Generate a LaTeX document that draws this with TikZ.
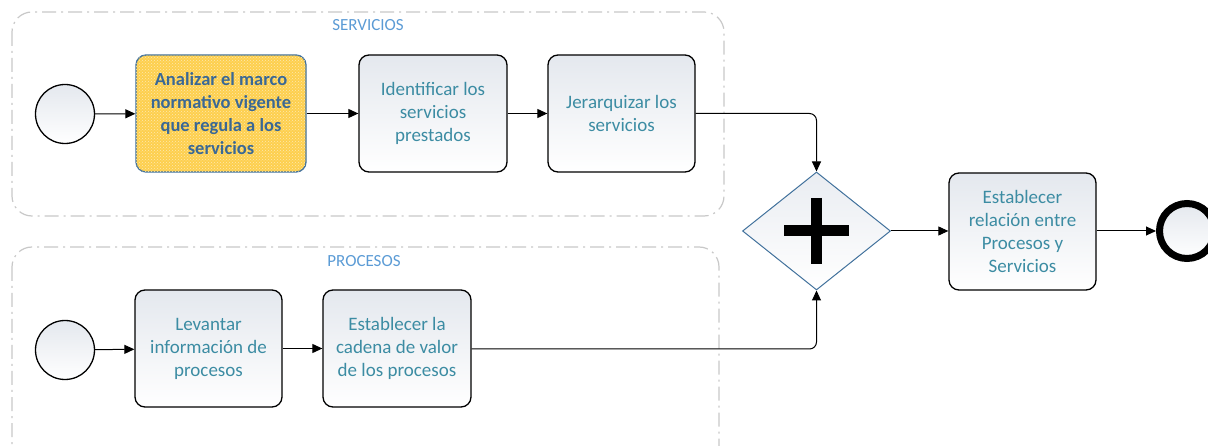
\documentclass[tikz,border=0pt]{standalone}
\usepackage{fontspec}
\setmainfont{Carlito}
\usetikzlibrary{arrows.meta,shapes.geometric,patterns}
\definecolor{topc}{HTML}{E4E8EE}
\definecolor{taskc}{HTML}{3C8CA3}
\definecolor{boldc}{HTML}{3A6895}
\definecolor{bordc}{HTML}{41719C}
\definecolor{yelc}{HTML}{FDCF4E}
\definecolor{grpc}{HTML}{C8C8C8}
\definecolor{glc}{HTML}{5B9BD5}
\begin{document}
\begin{tikzpicture}[x=1pt,y=-1pt,
  task/.style={draw=black, line width=1.3pt, rounded corners=10pt, minimum width=148pt, minimum height=117pt, top color=topc, bottom color=white, align=center, text=taskc, font=\fontsize{19}{23}\selectfont, inner sep=0pt},
  ev/.style={circle, draw=black, line width=1.3pt, minimum size=59pt, top color=topc, bottom color=white, inner sep=0pt},
  flow/.style={-{Triangle[length=10pt,width=9pt]}, line width=1pt, rounded corners=7pt},
  grp/.style={draw=grpc, line width=1.2pt, rounded corners=20pt, dash pattern=on 14pt off 5pt on 2pt off 5pt},
  glabel/.style={text=glc, font=\fontsize{17}{19}\selectfont, inner sep=0pt}]
\useasboundingbox (0,0) rectangle (1208,446);
\clip (0,0) rectangle (1208,446);
% groups
\draw[grp] (12,12) rectangle (724,216);
\draw[grp] (12,247) rectangle (719,470);
\node[glabel] (gl1) at (368,25) {SERVICIOS};
\node[glabel] (gl2) at (364,261) {PROCESOS};
% top lane
\node[ev] (s1) at (65,114) {};
\node[task, minimum width=170pt, draw=bordc, top color=yelc, bottom color=yelc,
  postaction={pattern=crosshatch dots, pattern color=white!55!yelc}] (t1) at (221,113.5) {};
\node[align=center, text=boldc, font=\bfseries\fontsize{18.5}{23}\selectfont, inner sep=0pt] (t1txt) at (t1.center) {Analizar el marco\\normativo vigente\\que regula a los\\servicios};
\node[task] (t2) at (433,113.5) {Identificar los\\servicios\\prestados};
\node[task, minimum width=147pt] (t3) at (621.5,113.5) {Jerarquizar los\\servicios};
% bottom lane
\node[ev] (s2) at (65,350) {};
\node[task, minimum width=147pt] (b1) at (208.5,348.5) {Levantar\\información de\\procesos};
\node[task] (b2) at (397,348.5) {Establecer la\\cadena de valor\\de los procesos};
% gateway
\node[diamond, draw=bordc, line width=1pt, minimum width=148pt, minimum height=118pt, inner sep=0pt, top color=topc!80!white, bottom color=white] (gw) at (816.5,231) {};
\draw[line width=11pt] (gw.center) ++(-32.5,0) -- ++(65,0);
\draw[line width=11pt] (gw.center) ++(0,-33) -- ++(0,66);
% final task and end
\node[task, minimum width=147pt] (t4) at (1022.5,231.5) {Establecer\\relación entre\\Procesos y\\Servicios};
\node[circle, draw=black, line width=7pt, minimum size=55pt, inner sep=0pt, top color=topc, bottom color=white] (e) at (1187,231) {};
% flows
\draw[flow] (s1) -- (t1);
\draw[flow] (t1) -- (t2);
\draw[flow] (t2) -- (t3);
\draw[flow] (t3.east |- 0,113.5) -| (gw.north);
\draw[flow] (s2) -- (b1);
\draw[flow] (b1) -- (b2);
\draw[flow] (b2.east |- 0,349) -| (gw.south);
\draw[flow] (gw.east) -- (t4.west |- gw.east);
\draw[flow] (t4.east |- e.west) -- (e.west);
\end{tikzpicture}
\end{document}
